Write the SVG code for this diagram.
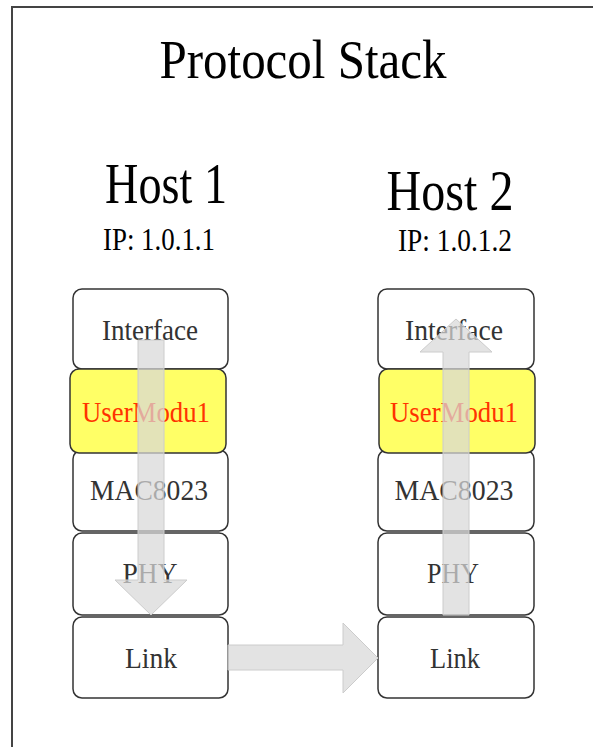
<svg xmlns="http://www.w3.org/2000/svg" width="593" height="747" viewBox="0 0 593 747">
<style>
.box{fill:#ffffff;stroke:#333333;stroke-width:1.5}
.hl{fill:#ffff66;stroke:#333333;stroke-width:1.5}
.t{font-family:"Liberation Serif",serif;fill:#333333;text-anchor:middle;font-size:30px}
.r{fill:#ff3300}
.big{font-family:"Liberation Serif",serif;fill:#000000;text-anchor:middle}
.arr{fill:#d8d8d8;fill-opacity:0.72;stroke:#cccccc;stroke-width:1}
</style>
<rect x="12" y="7" width="600" height="760" fill="#ffffff" stroke="#444444" stroke-width="2"/>
<text class="big" x="303" y="78" font-size="54" textLength="287" lengthAdjust="spacingAndGlyphs">Protocol Stack</text>
<g id="host1">
<text class="big" x="166" y="203" font-size="57" textLength="122" lengthAdjust="spacingAndGlyphs">Host 1</text>
<text class="big" x="159" y="250" font-size="32" fill="#333" textLength="112" lengthAdjust="spacingAndGlyphs">IP: 1.0.1.1</text>
</g>
<g id="host2">
<text class="big" x="450" y="210" font-size="57" textLength="127" lengthAdjust="spacingAndGlyphs">Host 2</text>
<text class="big" x="455" y="251" font-size="32" textLength="114" lengthAdjust="spacingAndGlyphs">IP: 1.0.1.2</text>
</g>
<g id="h1-interface"><rect class="box" x="73" y="289" width="155" height="80" rx="9"/><text class="t" x="150" y="340" textLength="96" lengthAdjust="spacingAndGlyphs">Interface</text></g>
<g id="h1-mac"><rect class="box" x="73" y="450" width="155" height="81" rx="9"/><text class="t" x="149" y="500" textLength="118" lengthAdjust="spacingAndGlyphs">MAC8023</text></g>
<g id="h1-phy"><rect class="box" x="73" y="533" width="155" height="82" rx="9"/><text class="t" x="150" y="583" textLength="55" lengthAdjust="spacingAndGlyphs">PHY</text></g>
<g id="h1-link"><rect class="box" x="73" y="617" width="155" height="81" rx="9"/><text class="t" x="151" y="668" textLength="52" lengthAdjust="spacingAndGlyphs">Link</text></g>
<g id="h1-user"><rect class="hl" x="70" y="369" width="156" height="84" rx="9"/><text class="t r" x="146" y="422" textLength="128" lengthAdjust="spacingAndGlyphs">UserModu1</text></g>
<g id="h2-interface"><rect class="box" x="378" y="289" width="156" height="80" rx="9"/><text class="t" x="454" y="340" textLength="98" lengthAdjust="spacingAndGlyphs">Interface</text></g>
<g id="h2-mac"><rect class="box" x="378" y="450" width="156" height="81" rx="9"/><text class="t" x="454" y="500" textLength="119" lengthAdjust="spacingAndGlyphs">MAC8023</text></g>
<g id="h2-phy"><rect class="box" x="378" y="533" width="156" height="82" rx="9"/><text class="t" x="453" y="583" textLength="52" lengthAdjust="spacingAndGlyphs">PHY</text></g>
<g id="h2-link"><rect class="box" x="378" y="617" width="156" height="81" rx="9"/><text class="t" x="455" y="668" textLength="50" lengthAdjust="spacingAndGlyphs">Link</text></g>
<g id="h2-user"><rect class="hl" x="379" y="369" width="156" height="84" rx="9"/><text class="t r" x="454" y="422" textLength="128" lengthAdjust="spacingAndGlyphs">UserModu1</text></g>
<g id="connectors">
<path class="arr" d="M138,340 H164 V580 H187 L151,615 L115,580 H138 Z"/>
<path class="arr" d="M443,615 V352 H420 L456,319 L492,352 H469 V615 Z"/>
<path class="arr" d="M228,645 H343 V623 L378,658 L343,693 V670 H228 Z"/>
</g>
</svg>
